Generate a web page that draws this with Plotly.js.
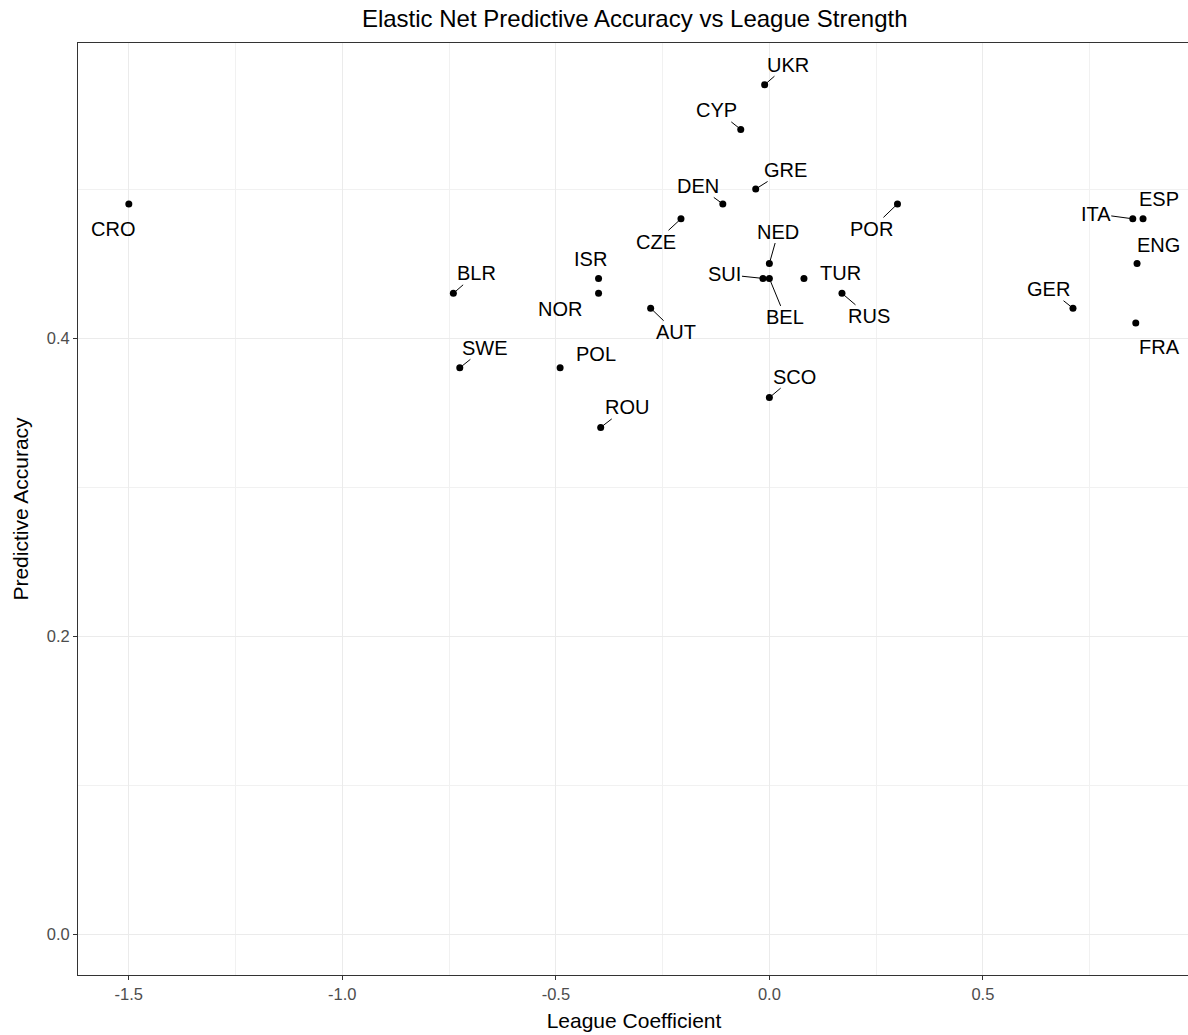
<!DOCTYPE html>
<html>
<head>
<meta charset="utf-8">
<script src="https://cdn.plot.ly/plotly-3.0.1.min.js"></script>
<style>
  html, body { margin: 0; padding: 0; overflow: hidden; background: #fff; }
  #chart { width: 1192px; height: 1035px; }
</style>
</head>
<body>
<div id="chart"></div>
<script>
// ---- data ----
const leagues = ["CRO","BLR","SWE","ISR","NOR","POL","ROU","AUT","CZE","DEN","CYP","UKR","GRE",
                 "NED","SUI","BEL","TUR","SCO","RUS","POR","GER","ITA","ESP","ENG","FRA"];
const leagueCoefficient = [-1.50,-0.74,-0.725,-0.40,-0.40,-0.49,-0.395,-0.278,-0.207,-0.109,-0.067,-0.011,-0.032,
                           0.000,-0.015,0.000,0.081,0.000,0.170,0.300,0.711,0.851,0.875,0.861,0.858];
const predictiveAccuracy = [0.49,0.43,0.38,0.44,0.43,0.38,0.34,0.42,0.48,0.49,0.54,0.57,0.50,
                            0.45,0.44,0.44,0.44,0.36,0.43,0.49,0.42,0.48,0.48,0.45,0.41];
const xTickVals = [-1.5,-1.0,-0.5,0.0,0.5];
const xTickText = ["-1.5","-1.0","-0.5","0.0","0.5"];
const yTickVals = [0.0,0.2,0.4];
const yTickText = ["0.0","0.2","0.4"];

// ---- label placement (repel-style offsets in pixels; segment drawn or not) ----
const labelDx = [-16,23,25,-8,-39,36,26,25,-25,-25,-24,23,30, 9,-38,16,37,25,27,-26,-24,-37,16,21,24];
const labelDy = [ 25,-20,-20,-19,16,-14,-20,24,23,-18,-19,-20,-19,-32,-4,39,-5,-21,23,25,-19,-5,-20,-19,24];
const labelSeg = [0,1,1,0,0,0,1,1,1,1,1,1,1, 1,1,1,0,1,1,1,1,1,0,0,0];

const FONT = "Liberation Sans, Arial, sans-serif";

const annotations = leagues.map((name, i) => {
  const base = {
    x: leagueCoefficient[i], y: predictiveAccuracy[i], xref: "x", yref: "y",
    text: name, font: {family: FONT, size: 20, color: "#000"}
  };
  if (labelSeg[i]) {
    return Object.assign(base, {
      showarrow: true, arrowhead: 0, arrowwidth: 1, arrowcolor: "#000",
      ax: labelDx[i], ay: labelDy[i], standoff: 3, borderpad: 0
    });
  }
  return Object.assign(base, {showarrow: false, xshift: labelDx[i], yshift: -labelDy[i]});
});

const trace = {
  type: "scatter", mode: "markers",
  x: leagueCoefficient, y: predictiveAccuracy, text: leagues,
  marker: {color: "#000", size: 7},
  hoverinfo: "text+x+y"
};

const layout = {
  width: 1192, height: 1035,
  margin: {l: 78, r: 2, t: 43, b: 60},
  paper_bgcolor: "#fff", plot_bgcolor: "#fff",
  showlegend: false,
  title: {
    text: "Elastic Net Predictive Accuracy vs League Strength",
    font: {family: FONT, size: 24, color: "#000"},
    x: 0.5325, xanchor: "center", y: 0.9825, yanchor: "middle"
  },
  xaxis: {
    range: [-1.619, 0.985],
    tickvals: xTickVals, ticktext: xTickText,
    ticks: "outside", ticklen: 4, tickwidth: 1, tickcolor: "#333",
    tickfont: {family: FONT, size: 16.5, color: "#4d4d4d"},
    showgrid: true, gridcolor: "#ebebeb", gridwidth: 1,
    minor: {dtick: 0.25, tick0: 0, showgrid: true, gridcolor: "#f1f1f1", gridwidth: 1},
    zeroline: false,
    showline: true, linecolor: "#333", linewidth: 1, mirror: true,
    title: {text: "League Coefficient", font: {family: FONT, size: 21, color: "#000"}, standoff: 11}
  },
  yaxis: {
    range: [-0.0275, 0.598],
    tickvals: yTickVals, ticktext: yTickText,
    ticks: "outside", ticklen: 4, tickwidth: 1, tickcolor: "#333",
    tickfont: {family: FONT, size: 16.5, color: "#4d4d4d"},
    showgrid: true, gridcolor: "#ebebeb", gridwidth: 1,
    minor: {dtick: 0.1, tick0: 0, showgrid: true, gridcolor: "#f1f1f1", gridwidth: 1},
    zeroline: false,
    showline: true, linecolor: "#333", linewidth: 1, mirror: true,
    title: {text: "Predictive Accuracy", font: {family: FONT, size: 21, color: "#000"}, standoff: 12}
  },
  annotations: annotations
};

Plotly.newPlot("chart", [trace], layout, {displayModeBar: false, staticPlot: true});
</script>
</body>
</html>
